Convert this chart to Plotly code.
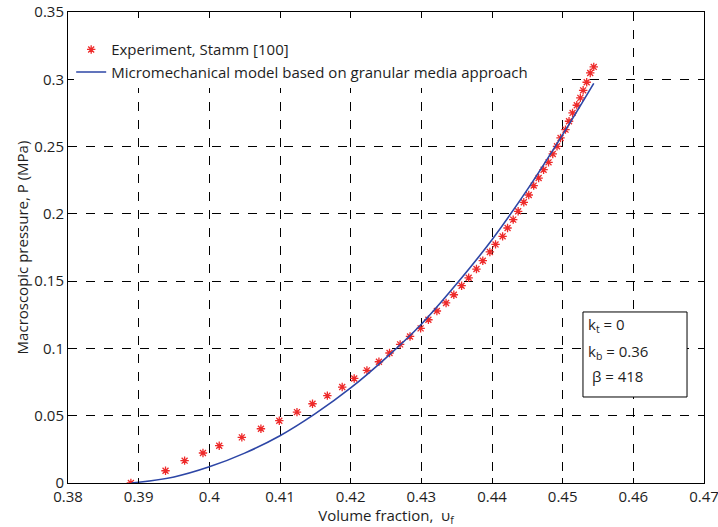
import plotly.graph_objects as go

# Experimental data (Stamm) : volume fraction vs macroscopic pressure (MPa)
exp_vf = [0.3889, 0.3938, 0.3965, 0.3991, 0.4014, 0.4046, 0.4073, 0.4099,
          0.4124, 0.4146, 0.4167, 0.4188, 0.4205, 0.4223, 0.4240, 0.4255,
          0.4270, 0.4284, 0.4299, 0.4310, 0.4322, 0.4335, 0.4346, 0.4357,
          0.4367, 0.4378, 0.4387, 0.4397, 0.4405, 0.4415, 0.4422, 0.4430,
          0.4437, 0.4445, 0.4452, 0.4459, 0.4466, 0.4473, 0.4480, 0.4486,
          0.4492, 0.4497, 0.4504, 0.4509, 0.4514, 0.4520, 0.4525, 0.4529,
          0.4534, 0.4539, 0.4544]
exp_p = [0.0000, 0.0091, 0.0166, 0.0223, 0.0277, 0.0339, 0.0403, 0.0463,
         0.0527, 0.0589, 0.0649, 0.0713, 0.0777, 0.0837, 0.0901, 0.0966,
         0.1030, 0.1089, 0.1149, 0.1213, 0.1278, 0.1338, 0.1399, 0.1466,
         0.1525, 0.1590, 0.1652, 0.1717, 0.1773, 0.1833, 0.1895, 0.1957,
         0.2019, 0.2086, 0.2140, 0.2210, 0.2266, 0.2328, 0.2383, 0.2445,
         0.2502, 0.2564, 0.2626, 0.2688, 0.2750, 0.2807, 0.2862, 0.2918,
         0.2978, 0.3047, 0.3092]

# Micromechanical model (granular media approach)
model_vf = [0.3890, 0.3950, 0.4000, 0.4050, 0.4100, 0.4150, 0.4200,
            0.4250, 0.4300, 0.4350, 0.4400, 0.4450, 0.4500, 0.4544]
model_p = [0.0000, 0.0045, 0.0120, 0.0222, 0.0351, 0.0515, 0.0706,
           0.0930, 0.1180, 0.1480, 0.1808, 0.2180, 0.2589, 0.2970]

# Model parameters shown in the inset box
param_lines = ["k<sub>t</sub> = 0", "k<sub>b</sub> = 0.36", " β = 418"]

x_ticks = [0.38, 0.39, 0.40, 0.41, 0.42, 0.43, 0.44, 0.45, 0.46, 0.47]
x_labels = ["0.38", "0.39", "0.4", "0.41", "0.42", "0.43", "0.44", "0.45", "0.46", "0.47"]
y_ticks = [0, 0.05, 0.10, 0.15, 0.20, 0.25, 0.30, 0.35]
y_labels = ["0", "0.05", "0.1", "0.15", "0.2", "0.25", "0.3", "0.35"]

FONT = "Open Sans"
TEXT = "#1e1e1e"

fig = go.Figure()
fig.add_trace(go.Scatter(
    x=exp_vf, y=exp_p, mode="markers", name="Experiment, Stamm [100]",
    marker=dict(symbol="asterisk-open", size=7, color="#ee2a2a",
                line=dict(color="#ee2a2a", width=1.3)),
))
fig.add_trace(go.Scatter(
    x=model_vf, y=model_p, mode="lines",
    name="Micromechanical model based on granular media approach",
    line=dict(color="#2d46a6", width=1.6, shape="spline"),
))

axis_common = dict(
    showline=True, linecolor="black", linewidth=1, mirror="ticks",
    ticks="inside", ticklen=5, tickcolor="black",
    showgrid=True, gridcolor="black", gridwidth=1, griddash="dash",
    zeroline=False, automargin=False, ticklabeloverflow="allow",
    tickfont=dict(family=FONT, size=15, color=TEXT),
)

fig.update_xaxes(range=[0.38, 0.47], tickvals=x_ticks, ticktext=x_labels,
                 title=dict(text="Volume fraction,  υ<sub>f</sub>", standoff=0,
                            font=dict(family=FONT, size=15, color=TEXT)),
                 **axis_common)
fig.update_yaxes(range=[0, 0.35], tickvals=y_ticks, ticktext=y_labels,
                 title=dict(text="Macroscopic pressure, P (MPa)", standoff=2,
                            font=dict(family=FONT, size=15, color=TEXT)),
                 **axis_common)

# White legend backdrop that hides the grid behind the legend entries
# (inset slightly so the frame and its inward ticks stay visible)
fig.add_shape(type="rect", xref="paper", yref="paper",
              x0=0.0094, x1=0.786, y0=0.8386, y1=0.987,
              line=dict(width=0), fillcolor="white", layer="above")

# Inset box with the model parameters
fig.add_shape(type="rect", xref="paper", yref="paper",
              x0=0.8097, x1=0.9733, y0=0.1826, y1=0.3631,
              line=dict(color="black", width=1), fillcolor="white", layer="above")
for txt, ypos in zip(param_lines, [0.3355, 0.2781, 0.2272]):
    fig.add_annotation(xref="paper", yref="paper", x=0.815, y=ypos,
                       xanchor="left", yanchor="middle", text=txt,
                       showarrow=False, align="left",
                       font=dict(family=FONT, size=15, color=TEXT))

fig.update_layout(
    width=718, height=527,
    margin=dict(l=68, r=14, t=12, b=44),
    plot_bgcolor="white", paper_bgcolor="white",
    legend=dict(x=0.005, y=0.955, xanchor="left", yanchor="top",
                bgcolor="rgba(0,0,0,0)", borderwidth=0,
                font=dict(family=FONT, size=15, color=TEXT),
                tracegroupgap=0, itemwidth=30),
    font=dict(family=FONT),
)

fig.write_html("out.html")
